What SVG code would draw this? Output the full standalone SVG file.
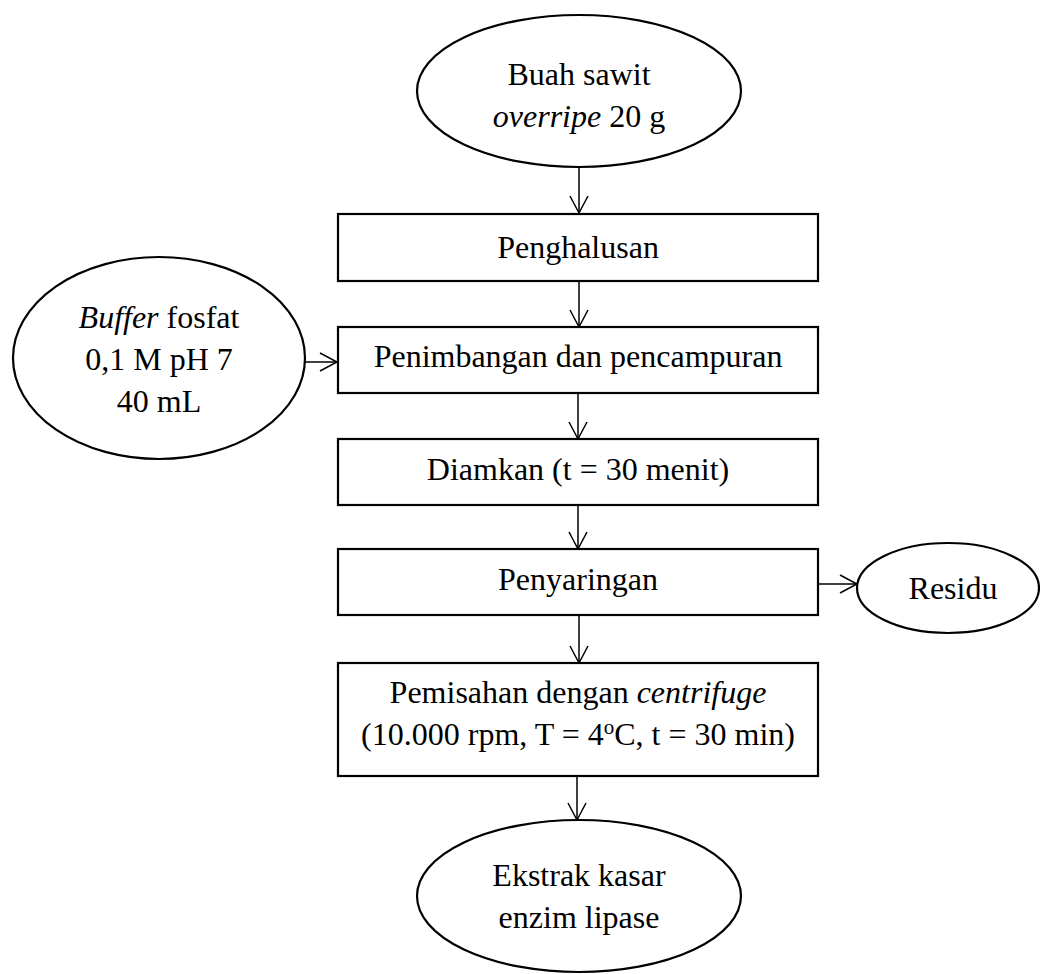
<svg xmlns="http://www.w3.org/2000/svg" width="1040" height="974" viewBox="0 0 1040 974">
<defs>
<marker id="arr" viewBox="0 0 20 20" refX="18" refY="10" markerWidth="20" markerHeight="20" markerUnits="userSpaceOnUse" orient="auto">
<path d="M1,1 L18,10 L1,19" fill="none" stroke="#000" stroke-width="1.5"/>
</marker>
<style>
.shape{fill:#fff;stroke:#000;stroke-width:2.2}
.t{font-family:"Liberation Serif","Times New Roman",serif;font-size:32px;fill:#000;text-anchor:middle}
.i{font-style:italic}
.c{stroke:#000;stroke-width:1.5;fill:none;marker-end:url(#arr)}
</style>
</defs>
<rect width="1040" height="974" fill="#fff"/>
<g id="connectors">
<line class="c" x1="579" y1="168" x2="579" y2="213"/>
<line class="c" x1="579" y1="281" x2="579" y2="327"/>
<line class="c" x1="305" y1="362" x2="337" y2="362"/>
<line class="c" x1="578" y1="393" x2="578" y2="439"/>
<line class="c" x1="578" y1="505" x2="578" y2="549"/>
<line class="c" x1="818" y1="584" x2="857" y2="584"/>
<line class="c" x1="579" y1="615" x2="579" y2="663"/>
<line class="c" x1="577" y1="776" x2="577" y2="820"/>
</g>
<g id="n_buah">
<ellipse class="shape" cx="579" cy="91" rx="162" ry="76"/>
<text class="t" x="579" y="85">Buah sawit</text>
<text class="t" x="579" y="127"><tspan class="i">overripe</tspan> 20 g</text>
</g>
<g id="n_penghalusan">
<rect class="shape" x="338" y="214" width="480" height="67"/>
<text class="t" x="578" y="258">Penghalusan</text>
</g>
<g id="n_buffer">
<ellipse class="shape" cx="159" cy="358" rx="146" ry="101"/>
<text class="t" x="159" y="328"><tspan class="i">Buffer</tspan> fosfat</text>
<text class="t" x="159" y="370">0,1 M pH 7</text>
<text class="t" x="159" y="412">40 mL</text>
</g>
<g id="n_penimbangan">
<rect class="shape" x="338" y="327" width="480" height="66"/>
<text class="t" x="578" y="367">Penimbangan dan pencampuran</text>
</g>
<g id="n_diamkan">
<rect class="shape" x="338" y="439" width="480" height="66"/>
<text class="t" x="578" y="480">Diamkan (t = 30 menit)</text>
</g>
<g id="n_penyaringan">
<rect class="shape" x="338" y="549" width="480" height="66"/>
<text class="t" x="578" y="590">Penyaringan</text>
</g>
<g id="n_residu">
<ellipse class="shape" cx="948" cy="588" rx="91" ry="45"/>
<text class="t" x="953" y="599">Residu</text>
</g>
<g id="n_pemisahan">
<rect class="shape" x="338" y="663" width="480" height="113"/>
<text class="t" x="578" y="703">Pemisahan dengan <tspan class="i">centrifuge</tspan></text>
<text class="t" x="578" y="745">(10.000 rpm, T = 4<tspan font-size="21" dy="-11">o</tspan><tspan dy="11">C, t = 30 min)</tspan></text>
</g>
<g id="n_ekstrak">
<ellipse class="shape" cx="579" cy="896" rx="162" ry="76"/>
<text class="t" x="579" y="886">Ekstrak kasar</text>
<text class="t" x="579" y="928">enzim lipase</text>
</g>
</svg>
